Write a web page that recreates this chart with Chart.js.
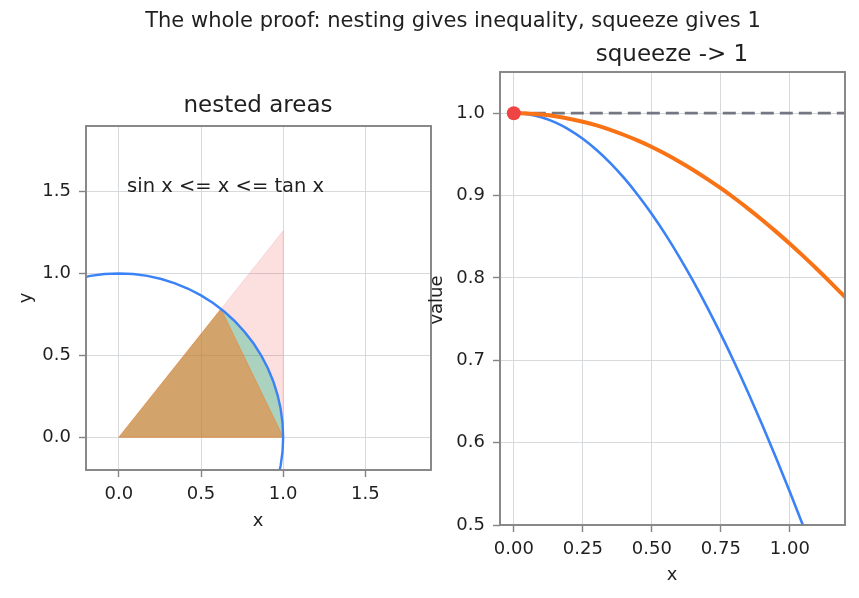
<!DOCTYPE html>
<html>
<head>
<meta charset="utf-8">
<script src="https://cdn.jsdelivr.net/npm/chart.js@4.4.1/dist/chart.umd.min.js"></script>
<style>
  html, body { margin: 0; padding: 0; background: #ffffff; }
  #wrap { position: relative; width: 859px; height: 598px; }
  canvas { position: absolute; left: 0; top: 0; }
</style>
</head>
<body>
<div id="wrap">
  <canvas id="left" width="859" height="598"></canvas>
  <canvas id="right" width="859" height="598"></canvas>
</div>
<script>
// ---------------- data ----------------
// unit circle arc (visible part), left panel
const circleX = [0.9659, 0.9848, 0.9962, 1.0000, 0.9962, 0.9848, 0.9659, 0.9397, 0.9063, 0.8660, 0.8192, 0.7660, 0.7071, 0.6428, 0.5736, 0.5000, 0.4226, 0.3420, 0.2588, 0.1736, 0.0872, 0.0000, -0.0872, -0.1736, -0.2588];
const circleY = [-0.2588, -0.1736, -0.0872, 0.0000, 0.0872, 0.1736, 0.2588, 0.3420, 0.4226, 0.5000, 0.5736, 0.6428, 0.7071, 0.7660, 0.8192, 0.8660, 0.9063, 0.9397, 0.9659, 0.9848, 0.9962, 1.0000, 0.9962, 0.9848, 0.9659];
// tangent triangle (pink)
const tanTriX = [0, 1, 1, 0];
const tanTriY = [0, 0, 1.2602, 0];
// sector (green)
const sectorX = [0, 1.0000, 0.9950, 0.9801, 0.9553, 0.9211, 0.8776, 0.8253, 0.7648, 0.6967, 0.6216, 0];
const sectorY = [0, 0.0000, 0.0998, 0.1987, 0.2955, 0.3894, 0.4794, 0.5646, 0.6442, 0.7174, 0.7833, 0];
// inner sine triangle (orange/brown)
const sinTriX = [0, 1, 0.6216, 0];
const sinTriY = [0, 0, 0.7833, 0];
const annotationText = 'sin x <= x <= tan x';
const annotationPos = [0.05, 1.5];

// right panel
const sqX = [0, 0.05, 0.10, 0.15, 0.20, 0.25, 0.30, 0.35, 0.40, 0.45, 0.50, 0.55, 0.60, 0.65, 0.70, 0.75, 0.80, 0.85, 0.90, 0.95, 1.00, 1.05, 1.10, 1.15, 1.20];
const cosVals = [1.0000, 0.9988, 0.9950, 0.9888, 0.9801, 0.9689, 0.9553, 0.9394, 0.9211, 0.9004, 0.8776, 0.8525, 0.8253, 0.7961, 0.7648, 0.7317, 0.6967, 0.6600, 0.6216, 0.5817, 0.5403, 0.4976, 0.4536, 0.4085, 0.3624];
const sincVals = [1.0000, 0.9996, 0.9983, 0.9963, 0.9933, 0.9896, 0.9851, 0.9797, 0.9735, 0.9666, 0.9589, 0.9504, 0.9411, 0.9311, 0.9203, 0.9089, 0.8967, 0.8839, 0.8704, 0.8562, 0.8415, 0.8261, 0.8102, 0.7937, 0.7767];
const limitX = [0, 1.2];
const limitY = [1, 1];
const limitPoint = [0, 1];

// ticks
const leftXTicks = [0, 0.5, 1.0, 1.5];
const leftXLabels = ['0.0', '0.5', '1.0', '1.5'];
const leftYTicks = [0, 0.5, 1.0, 1.5];
const leftYLabels = ['0.0', '0.5', '1.0', '1.5'];
const rightXTicks = [0, 0.25, 0.5, 0.75, 1.0];
const rightXLabels = ['0.00', '0.25', '0.50', '0.75', '1.00'];
const rightYTicks = [0.5, 0.6, 0.7, 0.8, 0.9, 1.0];
const rightYLabels = ['0.5', '0.6', '0.7', '0.8', '0.9', '1.0'];

// titles
const supTitle = 'The whole proof: nesting gives inequality, squeeze gives 1';
const leftTitle = 'nested areas';
const rightTitle = 'squeeze -> 1';

// ---------------- helpers ----------------
const FONT = '"DejaVu Sans", "Liberation Sans", sans-serif';
const TEXT = '#1f1f1f';
const SPINE = '#848484';
const GRID = '#d7dadd';
const TICK_FS = 18;

function pts(xs, ys) { return xs.map((x, i) => ({ x: x, y: ys[i] })); }

function fixedTicks(values) {
  return function (scale) { scale.ticks = values.map(v => ({ value: v })); };
}

function axis(min, max, ticks, labels, isY, size) {
  return {
    type: 'linear',
    min: min, max: max,
    afterBuildTicks: fixedTicks(ticks),
    afterFit: function (scale) { if (isY) scale.width = size; else scale.height = size; },
    grid: { color: GRID, lineWidth: 1, drawTicks: true, tickLength: 7, tickColor: SPINE, tickWidth: 1.4 },
    border: { display: false },
    ticks: {
      color: TEXT,
      font: { family: FONT, size: TICK_FS },
      padding: isY ? 8 : 7,
      maxRotation: 0,
      autoSkip: false,
      callback: function (value) {
        const i = ticks.indexOf(value);
        return i >= 0 ? labels[i] : '';
      }
    }
  };
}

function decor(cfg) {
  return {
    id: 'decor_' + cfg.name,
    afterDraw(chart) {
      const ctx = chart.ctx, a = chart.chartArea;
      ctx.save();
      // spines
      ctx.strokeStyle = SPINE;
      ctx.lineWidth = 1.9;
      ctx.strokeRect(a.left, a.top, a.right - a.left, a.bottom - a.top);
      ctx.fillStyle = TEXT;
      ctx.textBaseline = 'middle';
      ctx.textAlign = 'center';
      cfg.texts.forEach(t => {
        ctx.save();
        ctx.font = t.size + 'px ' + FONT;
        ctx.translate(t.x, t.y);
        if (t.rot) ctx.rotate(t.rot);
        ctx.fillText(t.text, 0, 0);
        ctx.restore();
      });
      if (cfg.annotate) {
        const xs = chart.scales.x, ys = chart.scales.y;
        ctx.font = cfg.annotate.size + 'px ' + FONT;
        ctx.textAlign = 'left';
        ctx.textBaseline = 'alphabetic';
        ctx.fillText(cfg.annotate.text, xs.getPixelForValue(cfg.annotate.pos[0]), ys.getPixelForValue(cfg.annotate.pos[1]));
      }
      ctx.restore();
    }
  };
}

const common = {
  responsive: false,
  animation: false,
  devicePixelRatio: 1,
  events: [],
  plugins: { legend: { display: false }, title: { display: false }, tooltip: { enabled: false } }
};

// ---------------- left chart ----------------
new Chart(document.getElementById('left'), {
  type: 'scatter',
  data: {
    datasets: [
      { data: pts(circleX, circleY), showLine: true, borderColor: '#3b82f6', borderWidth: 2.4, pointRadius: 0, fill: false, clip: 0 },
      { data: pts(sinTriX, sinTriY), showLine: true, borderColor: 'rgba(234,130,50,0.55)', borderWidth: 1, backgroundColor: 'rgba(249,115,22,0.5)', pointRadius: 0, fill: 'shape', tension: 0 },
      { data: pts(sectorX, sectorY), showLine: true, borderColor: 'rgba(16,185,129,0.0)', borderWidth: 0, backgroundColor: 'rgba(16,185,129,0.35)', pointRadius: 0, fill: 'shape', tension: 0 },
      { data: pts(tanTriX, tanTriY), showLine: true, borderColor: 'rgba(239,68,68,0.12)', borderWidth: 1, backgroundColor: 'rgba(239,68,68,0.17)', pointRadius: 0, fill: 'shape', tension: 0 }
    ]
  },
  options: Object.assign({}, common, {
    layout: { padding: { left: 36, right: 428, top: 126, bottom: 68 } },
    scales: {
      x: axis(-0.2, 1.9, leftXTicks, leftXLabels, false, 60),
      y: axis(-0.2, 1.9, leftYTicks, leftYLabels, true, 50)
    }
  }),
  plugins: [decor({
    name: 'left',
    texts: [
      { text: supTitle, x: 453, y: 22, size: 21 },
      { text: leftTitle, x: 258, y: 106, size: 23 },
      { text: 'x', x: 258, y: 521, size: TICK_FS },
      { text: 'y', x: 26, y: 298, size: TICK_FS, rot: -Math.PI / 2 }
    ],
    annotate: { text: annotationText, pos: annotationPos, size: 19.5 }
  })]
});

// ---------------- right chart ----------------
new Chart(document.getElementById('right'), {
  type: 'scatter',
  data: {
    datasets: [
      { data: pts([limitPoint[0]], [limitPoint[1]]), showLine: false, pointRadius: 7, pointBackgroundColor: '#ef4444', pointBorderColor: '#ef4444', pointBorderWidth: 0, clip: false },
      { data: pts(sqX, sincVals), showLine: true, borderColor: '#f97316', borderWidth: 4, pointRadius: 0, cubicInterpolationMode: 'monotone', clip: 0 },
      { data: pts(sqX, cosVals), showLine: true, borderColor: '#3b82f6', borderWidth: 2.6, pointRadius: 0, cubicInterpolationMode: 'monotone', clip: 0 },
      { data: pts(limitX, limitY), showLine: true, borderColor: 'rgba(110,112,124,0.95)', borderWidth: 2.8, borderDash: [13, 6], pointRadius: 0, clip: 0 }
    ]
  },
  options: Object.assign({}, common, {
    layout: { padding: { left: 450, right: 14, top: 72, bottom: 23 } },
    scales: {
      x: axis(-0.05, 1.2, rightXTicks, rightXLabels, false, 50),
      y: axis(0.5, 1.05, rightYTicks, rightYLabels, true, 50)
    }
  }),
  plugins: [decor({
    name: 'right',
    texts: [
      { text: rightTitle, x: 672, y: 55, size: 23 },
      { text: 'x', x: 672, y: 575, size: TICK_FS },
      { text: 'value', x: 437, y: 300, size: TICK_FS, rot: -Math.PI / 2 }
    ]
  })]
});
</script>
</body>
</html>
